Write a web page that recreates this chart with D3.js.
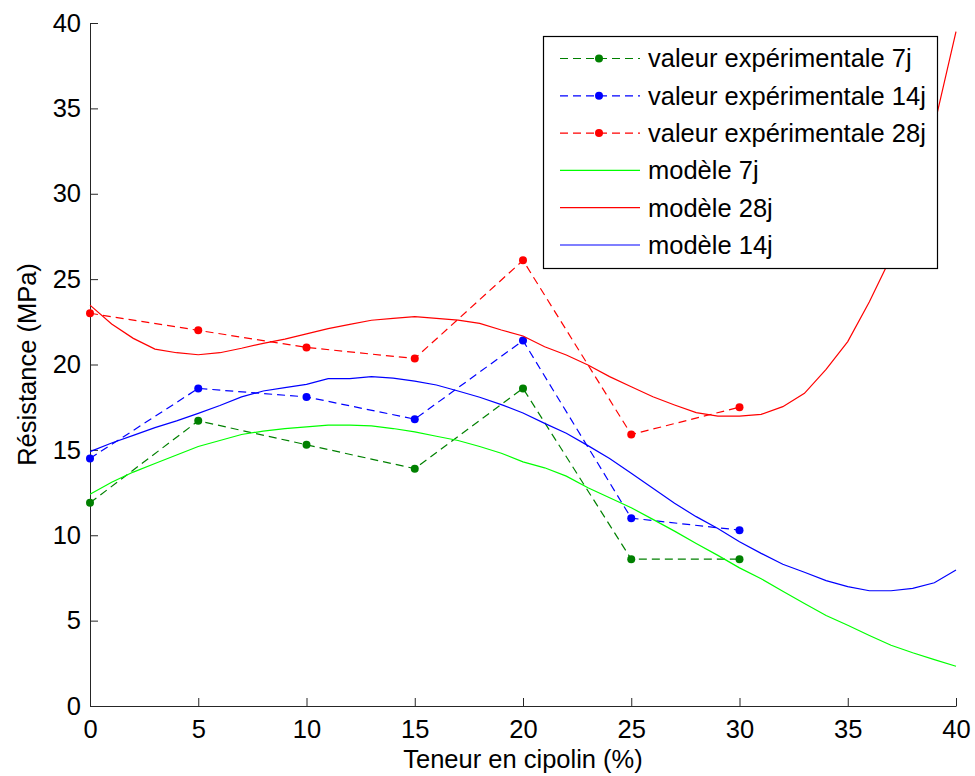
<!DOCTYPE html>
<html>
<head>
<meta charset="utf-8">
<script src="https://cdn.jsdelivr.net/npm/d3@7"></script>
<style>
  body { margin: 0; background: #fff; }
  text { font-family: "Liberation Sans", Arial, sans-serif; }
</style>
</head>
<body>
<div id="chart"></div>
<script>
// experimental points (every 5 %)
var xExp = [0, 5, 10, 15, 20, 25, 30]
var exp7 = [11.9, 16.7, 15.3, 13.9, 18.6, 8.6, 8.6]
var exp14 = [14.5, 18.6, 18.1, 16.8, 21.4, 11.0, 10.3]
var exp28 = [23.0, 22.0, 21.0, 20.35, 26.1, 15.9, 17.5]

// model curves, sampled at each integer 0..40
var xModel = d3.range(0, 41)
var model7 = [12.4, 13.1, 13.7, 14.2, 14.7, 15.2, 15.55, 15.9, 16.1, 16.25, 16.35, 16.45, 16.45, 16.4, 16.25,
    16.05, 15.8, 15.55, 15.2, 14.8, 14.3, 13.95, 13.46, 12.78, 12.2, 11.61, 10.93, 10.24, 9.52, 8.82,
    8.09, 7.45, 6.72, 6.0, 5.3, 4.73, 4.13, 3.56, 3.12, 2.72, 2.33]
var model14 = [14.9, 15.4, 15.85, 16.3, 16.7, 17.14, 17.6, 18.1, 18.45, 18.65, 18.84, 19.17, 19.17, 19.29, 19.2,
    19.03, 18.8, 18.45, 18.08, 17.65, 17.16, 16.55, 15.97, 15.25, 14.5, 13.63, 12.75, 11.87, 11.09, 10.4,
    9.62, 8.94, 8.3, 7.83, 7.34, 6.99, 6.75, 6.75, 6.89, 7.22, 7.96]
var model28 = [23.48, 22.37, 21.53, 20.9, 20.69, 20.57, 20.69, 20.95, 21.24, 21.49, 21.79, 22.1, 22.35, 22.59, 22.7,
    22.8, 22.7, 22.6, 22.41, 22.02, 21.67, 21.04, 20.56, 19.97, 19.29, 18.7, 18.11, 17.63, 17.18, 16.98,
    16.98, 17.08, 17.53, 18.31, 19.72, 21.34, 23.68, 26.3, 29.6, 34.0, 39.5]

var xTicks = [0, 5, 10, 15, 20, 25, 30, 35, 40]
var yTicks = [0, 5, 10, 15, 20, 25, 30, 35, 40]

var width = 975
var height = 776
var margin = {left: 90, right: 19, top: 23, bottom: 70}
var fontSize = "25.5px"

var svg = d3.select("#chart")
    .append("svg")
    .attr("width", width)
    .attr("height", height)

var x = d3.scaleLinear().domain([0, 40]).range([margin.left, width - margin.right])
var y = d3.scaleLinear().domain([0, 40]).range([height - margin.bottom, margin.top])

var axisColor = "#262626"

// x axis, ticks pointing inward
var gx = svg.append("g")
    .attr("transform", "translate(0," + y(0) + ")")
    .call(d3.axisBottom(x).tickValues(xTicks).tickSizeInner(-8).tickSizeOuter(0).tickPadding(14))
gx.select(".domain").attr("stroke", axisColor)
gx.selectAll(".tick line").attr("stroke", axisColor)
gx.selectAll(".tick text").attr("fill", "#000").style("font-size", fontSize)

var gy = svg.append("g")
    .attr("transform", "translate(" + x(0) + ",0)")
    .call(d3.axisLeft(y).tickValues(yTicks).tickSizeInner(-8).tickSizeOuter(0).tickPadding(9))
gy.select(".domain").attr("stroke", axisColor)
gy.selectAll(".tick line").attr("stroke", axisColor)
gy.selectAll(".tick text").attr("fill", "#000").style("font-size", fontSize)

// axis titles
svg.append("text")
    .attr("x", (x(0) + x(40)) / 2)
    .attr("y", 768)
    .attr("text-anchor", "middle")
    .style("font-size", fontSize)
    .text("Teneur en cipolin (%)")

svg.append("text")
    .attr("transform", "translate(36," + (y(0) + y(40)) / 2 + ") rotate(-90)")
    .attr("text-anchor", "middle")
    .style("font-size", fontSize)
    .text("Résistance (MPa)")

var line = d3.line()
    .x(function(d) { return x(d[0]) })
    .y(function(d) { return y(d[1]) })

var series = [
    {name: "valeur expérimentale 7j", xs: xExp, ys: exp7, color: "#008000", dashed: true},
    {name: "valeur expérimentale 14j", xs: xExp, ys: exp14, color: "#0000ff", dashed: true},
    {name: "valeur expérimentale 28j", xs: xExp, ys: exp28, color: "#ff0000", dashed: true},
    {name: "modèle 7j", xs: xModel, ys: model7, color: "#00ff00", dashed: false},
    {name: "modèle 28j", xs: xModel, ys: model28, color: "#ff0000", dashed: false},
    {name: "modèle 14j", xs: xModel, ys: model14, color: "#0000ff", dashed: false}
]

var plot = svg.append("g")

series.forEach(function(s) {
    var pts = s.xs.map(function(v, i) { return [v, s.ys[i]] })
    plot.append("path")
        .attr("d", line(pts))
        .attr("fill", "none")
        .attr("stroke", s.color)
        .attr("stroke-width", 1.2)
        .attr("stroke-dasharray", s.dashed ? "8,5" : null)
    if (s.dashed) {
        plot.selectAll(null)
            .data(pts)
            .enter()
            .append("circle")
            .attr("cx", function(d) { return x(d[0]) })
            .attr("cy", function(d) { return y(d[1]) })
            .attr("r", 4)
            .attr("fill", s.color)
    }
})

// legend
var lg = svg.append("g")
lg.append("rect")
    .attr("x", 543.5)
    .attr("y", 36.5)
    .attr("width", 394)
    .attr("height", 232)
    .attr("fill", "#fff")
    .attr("stroke", "#000")
    .attr("stroke-width", 1.2)

series.forEach(function(s, i) {
    var cy = 58.5 + i * 37.3
    lg.append("line")
        .attr("x1", 560).attr("x2", 640)
        .attr("y1", cy).attr("y2", cy)
        .attr("stroke", s.color)
        .attr("stroke-width", 1.2)
        .attr("stroke-dasharray", s.dashed ? "8,5" : null)
    if (s.dashed) {
        lg.append("circle")
            .attr("cx", 599).attr("cy", cy)
            .attr("r", 4)
            .attr("fill", s.color)
    }
    lg.append("text")
        .attr("x", 648)
        .attr("y", cy)
        .attr("dy", "0.35em")
        .style("font-size", fontSize)
        .text(s.name)
})
</script>
</body>
</html>
